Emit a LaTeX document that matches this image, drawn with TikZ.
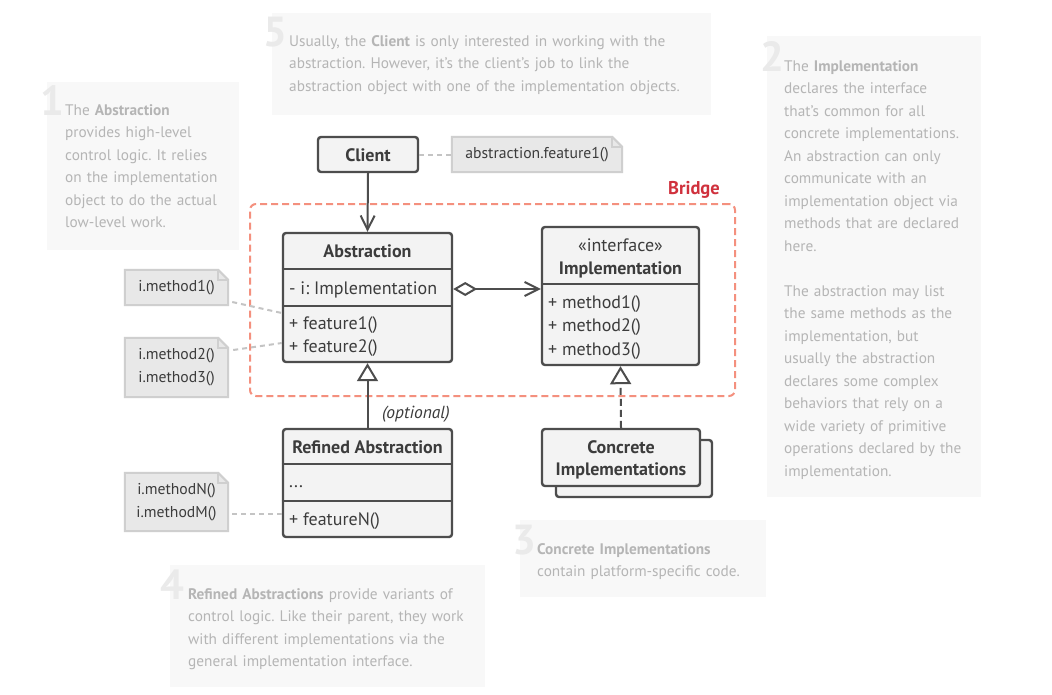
\documentclass[tikz,border=0pt]{standalone}
\usepackage{fontspec}
\setmainfont{PT Sans}
\usetikzlibrary{arrows.meta}
\definecolor{bord}{HTML}{4D4D4D}
\definecolor{txt}{HTML}{3C3C3C}
\definecolor{boxbg}{HTML}{F3F3F3}
\definecolor{notebg}{HTML}{E8E8E8}
\definecolor{notebd}{HTML}{CFCFCF}
\definecolor{descbg}{HTML}{F8F8F8}
\definecolor{desctx}{HTML}{B5B5B5}
\definecolor{numtx}{HTML}{EAEAEA}
\definecolor{bridgeln}{HTML}{F4907E}
\definecolor{bridgetx}{HTML}{D0313D}
\definecolor{dashln}{HTML}{C4C4C4}
\newcommand\foldnote[1]{%
  \draw[draw=notebd, fill=notebg, line width=2pt]
    (#1.south west) -- (#1.north west) -- ([xshift=-10pt]#1.north east)
    -- ([yshift=-10pt]#1.north east) -- (#1.south east) -- cycle;
  \draw[draw=notebd, line width=1.5pt]
    ([xshift=-10pt]#1.north east) -- ([xshift=-10pt,yshift=-10pt]#1.north east)
    -- ([yshift=-10pt]#1.north east);}
\begin{document}
\frenchspacing
\begin{tikzpicture}[x=1pt,y=-1pt,
  desc/.style={fill=descbg, inner sep=0},
  num/.style={font=\fontsize{42}{42}\selectfont\bfseries, text=numtx, anchor=base west, inner sep=0},
  para/.style={font=\fontsize{15.3}{22.5}\selectfont, text=desctx, anchor=base west, inner sep=0, align=left, text width=460pt},
  umlbox/.style={draw=bord, fill=boxbg, line width=2.4pt, rounded corners=3pt, inner sep=0},
  divider/.style={draw=bord, line width=2.4pt},
  ctitle/.style={font=\fontsize{18}{22}\selectfont\bfseries, text=txt, inner sep=0, anchor=base},
  cmember/.style={font=\fontsize{18}{23}\selectfont, text=txt, inner sep=0, anchor=base west},
  notebox/.style={inner sep=0},
  notetxt/.style={font=\fontsize{15.7}{23}\selectfont, text=txt, align=center, inner sep=0},
  notelink/.style={draw=dashln, line width=2pt, dash pattern=on 5pt off 4pt},
  assoc/.style={draw=bord, line width=2pt},
  bridgebox/.style={draw=bridgeln, line width=2pt, dash pattern=on 7pt off 4pt, rounded corners=6pt, inner sep=0},
]
\useasboundingbox[fill=white] (0,0) rectangle (1052,694);

% ---------- description panels ----------
\node[desc, minimum width=439, minimum height=102] (d5) at (491.5,64) {};
\node[num] (n5) at (263,46) {5};
\node[para] (p5) at (289,46) {Usually, the \textbf{Client} is only interested in working with the\\abstraction. However, it’s the client’s job to link the\\abstraction object with one of the implementation objects.};

\node[desc, minimum width=192, minimum height=168] (d1) at (143,166) {};
\node[num] (n1) at (40,115) {1};
\node[para] (p1) at (65,115) {The \textbf{Abstraction}\\provides high-level\\control logic. It relies\\on the implementation\\object to do the actual\\low-level work.};

\node[desc, minimum width=214, minimum height=461] (d2) at (874,266.5) {};
\node[num] (n2) at (760,71) {2};
\node[para] (p2) at (784,71) {The \textbf{Implementation}\\declares the interface\\that’s common for all\\concrete implementations.\\An abstraction can only\\communicate with an\\implementation object via\\methods that are declared\\here.\\[22.5pt]The abstraction may list\\the same methods as the\\implementation, but\\usually the abstraction\\declares some complex\\behaviors that rely on a\\wide variety of primitive\\operations declared by the\\implementation.};

\node[desc, minimum width=246, minimum height=77] (d3) at (643,558.5) {};
\node[num] (n3) at (512,554) {3};
\node[para] (p3) at (537,554) {\textbf{Concrete Implementations}\\contain platform-specific code.};

\node[desc, minimum width=315, minimum height=122] (d4) at (327.5,626) {};
\node[num] (n4) at (160,599) {4};
\node[para] (p4) at (188,599) {\textbf{Refined Abstractions} provide variants of\\control logic. Like their parent, they work\\with different implementations via the\\general implementation interface.};

% ---------- bridge frame ----------
\node[bridgebox, minimum width=485, minimum height=192] (bridge) at (492.5,300) {};
\node[font=\fontsize{18.5}{20}\selectfont\bfseries, text=bridgetx, anchor=base east, inner sep=0] (bridgelbl) at (720,194) {Bridge};

% ---------- client ----------
\node[umlbox, minimum width=100, minimum height=35] (client) at (368,154.5) {};
\node[ctitle] (clientT) at (368,161) {Client};

% ---------- abstraction ----------
\node[umlbox, minimum width=169, minimum height=129] (abs) at (367.5,297.5) {};
\draw[divider] (abs.west |- 0,269) -- (abs.east |- 0,269);
\draw[divider] (abs.west |- 0,306) -- (abs.east |- 0,306);
\node[ctitle] (absT) at (367.5,257) {Abstraction};
\node[cmember] (absA) at (289,294) {- i: Implementation};
\node[cmember] (absM1) at (289,329) {+ feature1()};
\node[cmember] (absM2) at (289,352) {+ feature2()};

% ---------- implementation ----------
\node[umlbox, minimum width=157, minimum height=138] (impl) at (620.5,296) {};
\draw[divider] (impl.west |- 0,284) -- (impl.east |- 0,284);
\node[font=\fontsize{18}{22}\selectfont, text=txt, inner sep=0, anchor=base] (implS) at (620.5,251) {«interface»};
\node[ctitle] (implT) at (620.5,274) {Implementation};
\node[cmember] (implM1) at (548,308) {+ method1()};
\node[cmember] (implM2) at (548,331) {+ method2()};
\node[cmember] (implM3) at (548,355) {+ method3()};

% ---------- refined abstraction ----------
\node[umlbox, minimum width=169, minimum height=108] (ref) at (367.5,483) {};
\draw[divider] (ref.west |- 0,464) -- (ref.east |- 0,464);
\draw[divider] (ref.west |- 0,501) -- (ref.east |- 0,501);
\node[ctitle] (refT) at (367.5,453) {Refined Abstraction};
\node[cmember] (refA) at (289,487) {...};
\node[cmember] (refM) at (289,525) {+ featureN()};

% ---------- concrete implementations ----------
\node[umlbox, minimum width=156, minimum height=57] (concB) at (634,468.5) {};
\node[umlbox, minimum width=158, minimum height=57] (conc) at (621,457.5) {};
\node[ctitle] (concT1) at (621,453) {Concrete};
\node[ctitle] (concT2) at (621,475) {Implementations};

% ---------- notes ----------
\node[notebox, minimum width=170, minimum height=35] (note0) at (537,154.5) {};
\foldnote{note0}
\node[notetxt] (note0t) at (note0) {abstraction.feature1()};

\node[notebox, minimum width=103, minimum height=35] (note1) at (176.5,287.5) {};
\foldnote{note1}
\node[notetxt] (note1t) at (note1) {i.method1()};

\node[notebox, minimum width=103, minimum height=59] (note2) at (176.5,367.5) {};
\foldnote{note2}
\node[notetxt] (note2t) at (note2) {i.method2()\\i.method3()};

\node[notebox, minimum width=103, minimum height=58] (note3) at (176.5,502) {};
\foldnote{note3}
\node[notetxt] (note3t) at (note3) {i.methodN()\\i.methodM()};

% ---------- note links ----------
\draw[notelink] (client.east) -- (note0.west);
\draw[notelink] ([shift={(4,14.5)}]note1.east) -- ([yshift=-15.5pt]abs.west);
\draw[notelink] ([shift={(5,-17.5)}]note2.east) -- ([yshift=-45.5pt]abs.west);
\draw[notelink] ([shift={(4,12)}]note3.east) -- ([yshift=-31pt]ref.west);

% ---------- relations ----------
\draw[assoc, -{Straight Barb[length=14pt,width=14pt]}] (client.south) -- (abs.north);
\draw[assoc, {Diamond[open,length=24pt,width=14pt]}-{Straight Barb[length=14pt,width=14pt]}]
  (abs.east |- 0,289) -- (impl.west |- 0,289);
\draw[assoc, -{Triangle[open,length=18pt,width=21pt]}] (ref.north) -- (abs.south);
\draw[assoc, dash pattern=on 7pt off 4pt, -{Triangle[open,length=18pt,width=21pt]}] (conc.north) -- (impl.south);
\node[font=\fontsize{17.5}{20}\selectfont\itshape, text=txt, anchor=base west, inner sep=0] (opt) at (382,418) {(optional)};
\end{tikzpicture}
\end{document}
